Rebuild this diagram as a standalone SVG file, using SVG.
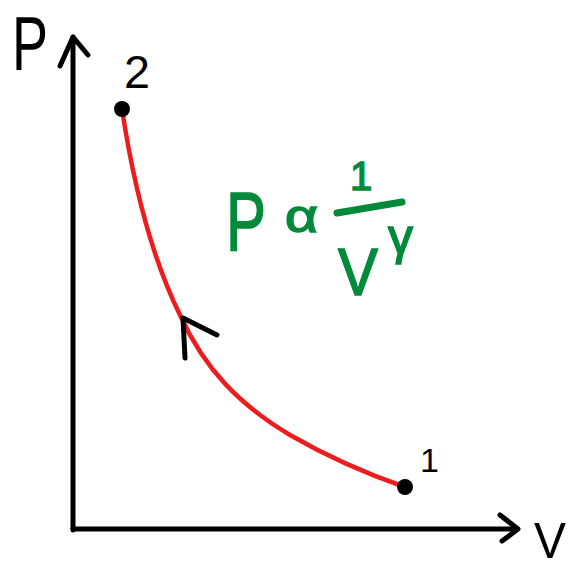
<svg xmlns="http://www.w3.org/2000/svg" width="569" height="570" viewBox="0 0 569 570">
<style>
.ax{fill:none;stroke:#000;stroke-width:5;stroke-linecap:round;stroke-linejoin:round}
.lbl{font-family:"Liberation Sans","DejaVu Sans",sans-serif;fill:#000}
.grn{font-family:"Liberation Sans","DejaVu Sans",sans-serif;fill:#008a3a;stroke:#008a3a;stroke-width:1.5}
.pt{fill:#000}
</style>
<rect width="569" height="570" fill="#fff"/>
<g id="axes">
<path class="ax" d="M73,530 L73,37"/>
<path class="ax" d="M60,66 L73,37 L88,55"/>
<path class="ax" d="M73,529 L517,529"/>
<path class="ax" d="M500,515 L518,529 L502,541"/>
<text class="lbl" x="12" y="70" font-size="76" textLength="36" lengthAdjust="spacingAndGlyphs">P</text>
<text class="lbl" x="534" y="558" font-size="50" textLength="32" lengthAdjust="spacingAndGlyphs">V</text>
</g>
<g id="connectors">
<path d="M122,109 C132,175 148,250 180,315 C205,370 240,405 290,435 C330,458 370,475 405,487" fill="none" stroke="#ee1c1c" stroke-width="4.5" stroke-linecap="round"/>
<path class="ax" d="M185,358 L183,318 L217,335"/>
</g>
<g id="node-2">
<circle class="pt" cx="122" cy="109" r="8"/>
<text class="lbl" x="124" y="88" font-size="46" textLength="26" lengthAdjust="spacingAndGlyphs">2</text>
</g>
<g id="node-1">
<circle class="pt" cx="405" cy="487" r="8"/>
<text class="lbl" x="420" y="472" font-size="34">1</text>
</g>
<g id="formula">
<text class="grn" x="226" y="250" font-size="84" textLength="40" lengthAdjust="spacingAndGlyphs">P</text>
<text class="grn" x="285" y="232" font-size="46" textLength="33" lengthAdjust="spacingAndGlyphs">α</text>
<text class="grn" x="350" y="190" font-size="40">1</text>
<path d="M337,213 L402,202" stroke="#008a3a" stroke-width="7" stroke-linecap="round"/>
<text class="grn" x="338" y="295" font-size="66" textLength="40" lengthAdjust="spacingAndGlyphs">V</text>
<text class="grn" x="388" y="254" font-size="50">γ</text>
</g>
</svg>
